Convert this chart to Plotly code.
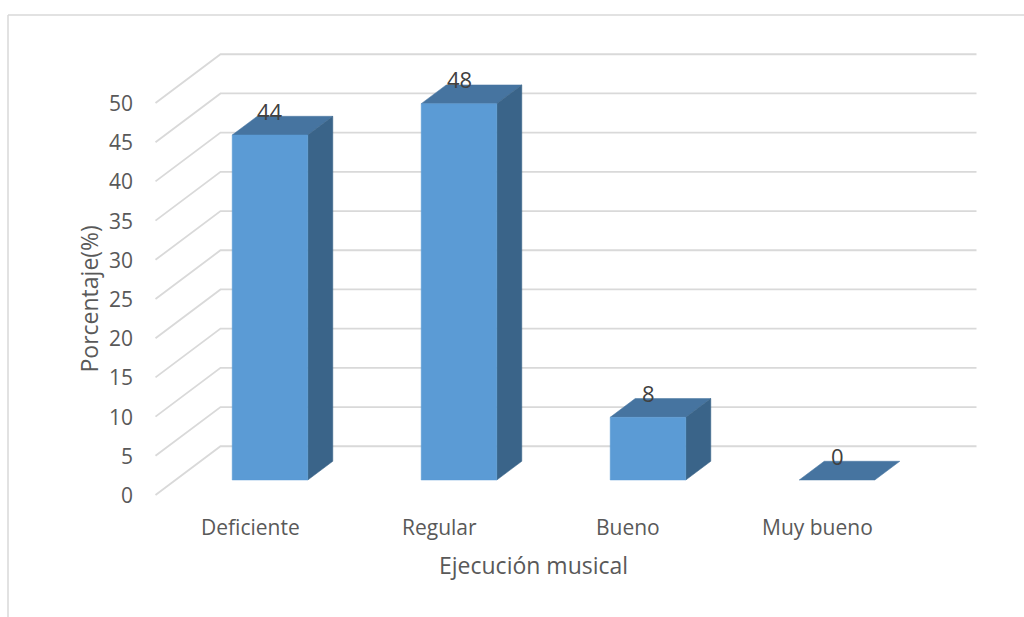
import plotly.graph_objects as go

# Data
categorias = ["Deficiente", "Regular", "Bueno", "Muy bueno"]
porcentajes = [44, 48, 8, 0]
ticks_y = [0, 5, 10, 15, 20, 25, 30, 35, 40, 45, 50]
titulo_x = "Ejecución musical"
titulo_y = "Porcentaje(%)"

# Layout geometry: the axes span the whole page; x is in category units,
# y in percent units, measured on the front plane of the 3-D box.
W, H = 1024, 617
PX_X = 189.0      # pixels per category step
PX_Y = 7.84       # pixels per percent point
X0_PX = 250.0     # page x of the first category on the front plane
Y0_PX = 495.0     # page y of the value 0 on the front plane
SLOPE = 0.75      # rise of the oblique depth direction per horizontal pixel

BAR_HALF = 0.2
T_BAR_FRONT, T_BAR_BACK, T_WALL = 20, 45, 65   # depth in pixels

x_range = [-X0_PX / PX_X, (W - X0_PX) / PX_X]
y_range = [-(H - Y0_PX) / PX_Y, Y0_PX / PX_Y]


def off(x, y, t):
    """Shift a front-plane point (x, y) back by a depth of t pixels."""
    return x + t / PX_X, y + SLOPE * t / PX_Y


FRONT = "#5B9BD5"
TOP = "#4674A0"
SIDE = "#3A6489"
GRID = "#D9D9D9"
TXT = "#595959"
LBL = "#404040"
FONT = "Open Sans"

fig = go.Figure()


def poly(pts, color):
    xs = [p[0] for p in pts] + [pts[0][0]]
    ys = [p[1] for p in pts] + [pts[0][1]]
    fig.add_trace(go.Scatter(x=xs, y=ys, mode="lines", fill="toself",
                             fillcolor=color, line=dict(color=color, width=0.5),
                             hoverinfo="skip", showlegend=False))


# Gridlines: diagonal along the side wall, then straight across the back wall
x_left = -0.5
x_right = len(categorias) - 0.5
for tk in ticks_y:
    p0 = (x_left, tk)
    p1 = off(x_left, tk, T_WALL)
    p2 = off(x_right, tk, T_WALL)
    fig.add_trace(go.Scatter(x=[p0[0], p1[0], p2[0]], y=[p0[1], p1[1], p2[1]],
                             mode="lines", line=dict(color=GRID, width=1.8),
                             hoverinfo="skip", showlegend=False))

# Bars as three visible faces each
for i, v in enumerate(porcentajes):
    xl, xr = i - BAR_HALF, i + BAR_HALF
    # top face
    poly([off(xl, v, T_BAR_FRONT), off(xr, v, T_BAR_FRONT),
          off(xr, v, T_BAR_BACK), off(xl, v, T_BAR_BACK)], TOP)
    if v > 0:
        # right side face
        poly([off(xr, 0, T_BAR_FRONT), off(xr, 0, T_BAR_BACK),
              off(xr, v, T_BAR_BACK), off(xr, v, T_BAR_FRONT)], SIDE)
        # front face
        poly([off(xl, 0, T_BAR_FRONT), off(xr, 0, T_BAR_FRONT),
              off(xr, v, T_BAR_FRONT), off(xl, v, T_BAR_FRONT)], FRONT)

annotations = []

# Value labels above each bar
for i, v in enumerate(porcentajes):
    lx, ly = off(i, v, T_BAR_FRONT)
    annotations.append(dict(x=lx, y=ly + 24.5 / PX_Y, text=str(v), showarrow=False,
                            xanchor="center", yanchor="middle",
                            font=dict(family=FONT, size=22, color=LBL)))

# Y tick labels on the front plane
for tk in ticks_y:
    annotations.append(dict(x=x_left - 21 / PX_X, y=tk, text=str(tk), showarrow=False,
                            xanchor="right", yanchor="middle",
                            font=dict(family=FONT, size=21, color=TXT)))

# Category labels
for i, c in enumerate(categorias):
    annotations.append(dict(x=i, y=-32 / PX_Y, text=c, showarrow=False,
                            xanchor="center", yanchor="middle",
                            font=dict(family=FONT, size=21, color=TXT)))

# Axis titles
annotations.append(dict(x=(x_left + x_right) / 2, y=-70 / PX_Y, text=titulo_x,
                        showarrow=False, xanchor="center", yanchor="middle",
                        font=dict(family=FONT, size=23, color=TXT)))
annotations.append(dict(x=x_left - 67 / PX_X, y=(ticks_y[0] + ticks_y[-1]) / 2,
                        text=titulo_y, showarrow=False, textangle=-90,
                        xanchor="center", yanchor="middle",
                        font=dict(family=FONT, size=23, color=TXT)))

# Chart frame (top and left edges)
frame_y = 1 - 15 / H
frame_x = 8 / W
shapes = [
    dict(type="line", xref="paper", yref="paper", x0=frame_x, y0=frame_y, x1=1, y1=frame_y,
         line=dict(color=GRID, width=1.5)),
    dict(type="line", xref="paper", yref="paper", x0=frame_x, y0=0, x1=frame_x, y1=frame_y,
         line=dict(color=GRID, width=1.5)),
]

fig.update_layout(
    width=W, height=H,
    margin=dict(l=0, r=0, t=0, b=0),
    paper_bgcolor="white", plot_bgcolor="white",
    xaxis=dict(range=x_range, visible=False, fixedrange=True),
    yaxis=dict(range=y_range, visible=False, fixedrange=True),
    annotations=annotations,
    shapes=shapes,
    showlegend=False,
)

fig.write_html("out.html")
